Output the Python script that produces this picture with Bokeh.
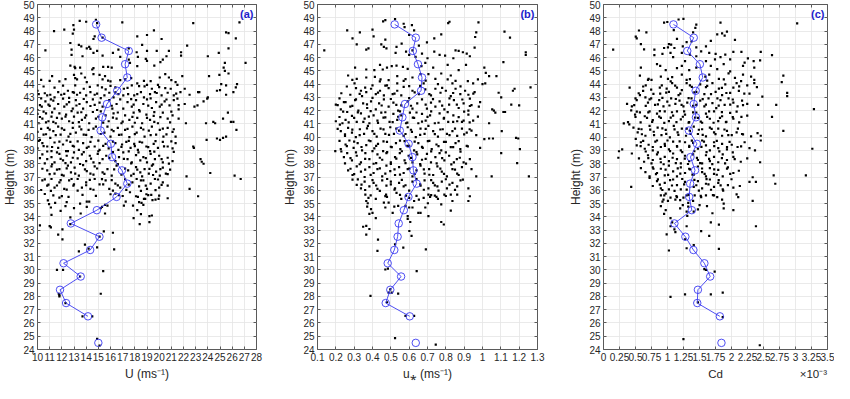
import numpy as np
from bokeh.plotting import figure
from bokeh.layouts import row
from bokeh.models import FixedTicker, LinearAxis, Label, CustomJSTickFormatter, Range1d
from bokeh.embed import file_html
from bokeh.resources import INLINE

# ---------------- data ----------------
height_bins = [24.5, 25.5, 26.5, 27.5, 28.5, 29.5, 30.5, 31.5, 32.5, 33.5, 34.5, 35.5, 36.5,
               37.5, 38.5, 39.5, 40.5, 41.5, 42.5, 43.5, 44.5, 45.5, 46.5, 47.5, 48.5]
nan = float("nan")
mean_U = [15.0, nan, 14.15, 12.35, 11.85, 13.55, 12.14, 14.33, 15.09, 12.74, 14.88, 16.5, 17.38,
          16.94, 16.13, 16.03, 15.19, 15.32, 15.71, 16.55, 17.38, 17.2, 17.5, 15.27, 14.82]
mean_ustar = [0.636, nan, 0.603, 0.472, 0.497, 0.556, 0.483, 0.519, 0.537, 0.543, 0.571, 0.596, 0.641,
              0.623, 0.618, 0.597, 0.549, 0.563, 0.577, 0.665, 0.670, 0.648, 0.620, 0.636, 0.521]
mean_cd = [1.843, nan, 1.818, 1.465, 1.475, 1.667, 1.576, 1.405, 1.279, 1.108, 1.380, 1.339, 1.354,
           1.430, 1.359, 1.460, 1.334, 1.445, 1.410, 1.440, 1.551, 1.506, 1.309, 1.410, 1.093]

# scatter samples (value, height)
points_U = [
    (13.47,48.77),(14.0,48.7),(14.8,48.85),(14.9,48.6),(16.97,48.65),(22.8,48.6),(26.6,48.65),(12.95,48.45),
    (13.0,48.1),(11.36,48.0),(12.2,48.1),(19.57,48.05),(25.5,47.9),(25.7,47.85),
    (12.9,47.8),(14.7,47.6),(14.6,47.4),(15.35,47.5),(18.2,47.6),(19.0,47.7),(20.2,47.4),(26.3,47.45),
    (13.4,46.95),(13.6,46.85),(12.7,47.1),(22.3,46.9),
    (10.65,46.55),(12.8,46.6),(14.05,46.7),(14.25,46.8),(14.35,46.65),(14.9,46.5),(16.2,46.35),(16.65,46.6),
    (17.5,46.7),(18.15,46.4),(18.6,46.95),(19.0,46.5),(19.8,46.5),(20.6,46.1),(20.8,46.5),(21.8,46.4),
    (21.8,46.15),(24.0,46.1),(24.9,46.35),(25.7,46.7),(12.8,46.2),(13.7,46.1),(14.6,46.35),(15.35,46.15),
    (16.8,46.05),(17.5,45.85),(18.25,46.05),(18.9,45.9),(20.3,45.85),
    (12.7,45.4),(13.05,45.3),(13.1,45.2),(13.5,45.25),(14.5,45.1),(14.6,45.2),(15.4,45.3),(15.8,45.3),
    (16.1,45.25),(17.6,45.6),(18.2,45.35),(19.0,45.75),(19.6,45.4),(20.1,45.65),(25.4,45.6),(25.3,45.25),
    (25.4,45.0),(27.1,45.6),(13.0,44.7),(13.6,44.8),(14.6,44.75),(15.1,44.7),(15.55,44.6),
    (11.2,44.6),(11.0,44.25),(13.1,44.45),(13.25,44.35),(13.9,44.5),(14.05,44.15),(15.35,44.35),(16.0,44.2),
    (16.8,44.3),(17.7,44.45),(18.2,44.05),(18.75,44.25),(20.05,44.5),(20.5,44.75),(20.8,44.5),(21.35,44.15),
    (21.9,44.6),(24.1,44.6),(24.95,44.7),(25.1,44.0),(25.7,44.8),(13.1,43.9),(13.8,43.65),(14.95,43.9),
    (15.3,43.75),(15.6,43.6),(16.4,43.75),(17.1,43.65),(17.75,43.9),(18.35,43.85),(19.0,43.95),(19.4,43.65),
    (19.9,43.95),(20.5,43.7),(20.95,43.65),(21.5,43.95),(22.1,43.65),(23.2,43.4),(24.75,43.5),(25.0,43.55),
    (25.5,43.9),(26.3,43.75),(26.4,44.0),
    (10.0,43.5),(10.1,43.25),(10.8,43.15),(11.05,43.2),(11.4,43.0),(11.7,43.4),(11.95,43.2),(12.5,43.5),
    (12.9,43.4),(13.25,43.2),(13.5,43.35),(14.0,43.15),(14.35,43.4),(14.7,43.2),(15.5,43.15),(15.9,43.35),
    (16.25,43.0),(16.65,43.25),(17.05,43.15),(17.45,43.25),(17.95,43.15),(18.5,43.4),(18.75,43.0),(19.25,43.25),
    (19.65,43.4),(20.2,43.15),(20.7,43.35),(21.2,43.15),(21.75,43.4),(22.5,43.2),(23.3,43.4),(24.0,43.0),
    (25.5,43.2),(26.1,43.4),
    (10.0,42.05),(10.35,42.3),(10.65,42.7),(10.9,42.45),(11.3,42.75),(11.4,42.15),(11.7,42.5),(12.1,42.9),
    (12.2,42.3),(12.6,42.65),(12.9,42.15),(13.15,42.8),(13.45,42.5),(13.75,42.15),(14.05,42.65),(14.35,42.35),
    (14.55,42.85),(14.9,42.05),(15.1,42.6),(15.35,42.3),(15.9,42.8),(16.15,42.15),(16.5,42.5),(16.8,42.85),
    (17.05,42.15),(17.4,42.65),(17.75,42.3),(18.1,42.8),(18.35,42.05),(18.7,42.5),(19.0,42.85),(19.4,42.2),
    (19.75,42.65),(20.05,42.3),(20.45,42.7),(20.85,42.4),(21.2,42.8),(21.6,42.1),(22.1,42.5),(22.9,42.3),
    (23.15,42.4),(23.65,42.7),(23.95,42.9),(21.5,42.9),
    (10.0,41.75),(10.1,41.05),(10.4,41.4),(10.7,41.8),(10.9,41.2),(11.15,41.55),(11.5,41.05),(11.8,41.8),
    (12.0,41.4),(12.35,41.7),(12.6,41.2),(13.0,41.55),(13.3,41.85),(13.65,41.3),(14.0,41.65),(14.25,41.05),
    (14.55,41.9),(14.8,41.4),(15.6,41.65),(15.85,41.2),(16.25,41.8),(16.5,41.4),(16.9,41.05),(17.2,41.65),
    (17.55,41.3),(17.9,41.85),(18.2,41.45),(18.6,41.05),(18.95,41.7),(19.25,41.3),(19.55,41.6),(19.9,41.05),
    (20.3,41.85),(20.7,41.4),(21.1,41.65),(21.6,41.4),(22.2,41.05),(23.85,41.05),(24.45,41.15),(24.6,41.05),
    (25.25,41.4),(25.9,41.15),(26.1,41.15),(26.35,40.55),(25.65,41.85),
    (10.0,40.4),(10.2,39.8),(10.5,40.2),(10.85,40.7),(11.05,39.95),(11.3,40.45),(11.7,40.8),(11.9,40.2),
    (12.2,40.55),(12.55,40.05),(12.9,40.7),(13.15,40.35),(13.45,40.8),(13.8,40.2),(14.2,40.55),(14.45,40.0),
    (14.8,40.8),(15.5,40.35),(15.75,40.8),(16.0,40.05),(16.25,40.45),(16.6,40.7),(16.9,40.2),(17.2,40.55),
    (17.55,40.0),(17.8,40.8),(18.15,40.35),(18.5,40.7),(18.8,40.05),(19.15,40.5),(19.4,40.8),(19.75,40.2),
    (20.05,40.55),(20.35,40.05),(20.7,40.7),(21.1,40.4),(21.35,40.05),(23.9,39.8),(24.75,39.9),(25.0,39.8),
    (25.25,39.95),(25.5,40.05),
    (10.0,39.15),(10.4,39.55),(10.8,39.3),(11.15,38.95),(11.4,39.6),(11.7,39.2),(12.1,39.45),(12.35,38.95),
    (12.7,39.65),(13.0,39.3),(13.4,39.05),(13.75,39.55),(14.05,39.2),(14.35,39.65),(14.7,39.3),(15.1,39.05),
    (15.6,39.5),(15.85,39.15),(16.4,39.55),(16.65,39.05),(16.95,39.45),(17.3,39.65),(17.65,39.2),(17.95,39.5),
    (18.25,39.05),(18.6,39.6),(18.95,39.3),(19.25,38.95),(19.55,39.5),(19.9,39.2),(20.3,39.65),(20.7,39.3),
    (21.1,39.15),(21.35,39.55),(22.8,39.3),(22.85,39.2),
    (10.4,38.7),(10.8,38.35),(11.15,38.5),(11.4,38.1),(11.8,38.75),(12.1,38.25),(12.4,38.6),(12.75,38.1),
    (13.0,38.85),(13.3,38.4),(13.65,38.7),(14.0,38.2),(14.3,38.6),(14.6,38.1),(14.95,38.75),(15.35,38.35),
    (15.65,38.6),(16.4,38.2),(16.7,38.5),(17.05,38.85),(17.4,38.35),(17.75,38.1),(18.1,38.65),(18.45,38.25),
    (18.7,38.5),(19.0,38.1),(19.3,38.75),(19.65,38.35),(20.0,38.6),(20.3,38.1),(20.7,38.45),(21.1,38.2),
    (23.4,38.35),(23.5,38.15),(23.65,38.0),
    (10.8,37.5),(11.15,37.8),(11.4,37.25),(11.8,37.6),(12.15,37.1),(12.5,37.85),(12.75,37.35),(13.05,37.7),
    (13.4,37.1),(13.75,37.9),(14.05,37.45),(14.35,37.25),(14.7,37.8),(15.35,37.35),(15.75,37.6),(16.1,37.1),
    (16.5,37.85),(17.45,37.5),(17.7,37.1),(18.1,37.75),(18.45,37.35),(18.6,37.05),(18.8,37.6),(19.15,37.25),
    (19.4,37.85),(19.75,37.4),(20.05,37.1),(20.3,37.7),(20.55,37.25),(20.9,37.55),(22.25,37.05),(24.2,37.3),
    (26.2,37.1),(26.7,36.85),
    (10.4,36.75),(10.8,36.35),(11.15,36.85),(11.4,36.2),(11.8,36.6),(12.2,36.1),(12.6,36.75),(12.95,36.35),
    (13.3,36.85),(13.65,36.2),(14.0,36.6),(14.35,36.1),(14.7,36.85),(15.1,36.45),(15.6,36.75),(15.9,36.1),
    (16.4,36.5),(16.8,36.2),(17.8,36.6),(18.15,36.85),(18.35,36.3),(18.7,36.75),(19.0,36.1),(19.3,36.5),
    (19.65,36.85),(20.0,36.2),(20.3,36.6),(20.7,36.35),(22.5,36.1),
    (10.6,35.72),(10.85,35.24),(10.95,34.95),(11.1,34.7),(11.15,34.15),(11.45,35.05),(11.8,35.45),(11.9,34.45),
    (12.3,34.8),(12.4,35.1),(12.55,35.5),(13.0,34.65),(13.5,35.0),(13.55,34.25),(14.05,34.75),(14.05,35.15),
    (14.25,35.15),(15.2,34.65),(15.3,34.75),(15.55,34.9),(15.55,34.25),(15.75,34.85),(16.0,35.7),(16.4,35.75),
    (17.1,34.85),(17.25,35.15),(17.6,35.85),(17.85,34.85),(18.1,35.55),(18.25,35.5),(18.35,35.1),(18.55,35.05),
    (18.7,34.9),(18.75,35.35),(18.85,35.35),(18.95,35.7),(19.35,35.65),(19.45,35.25),(19.7,35.3),(19.95,35.35),
    (20.0,35.6),(20.7,35.4),(23.2,35.55),
    (17.9,33.9),(18.4,33.45),(19.2,33.6),(19.2,34.05),(19.4,34.1),(18.2,34.5),(18.5,34.2),
    (12.7,33.95),(12.7,33.45),(10.2,33.35),(11.0,33.3),(11.1,33.2),(12.05,33.05),(11.7,32.65),(12.05,32.3),
    (15.45,32.9),(16.2,32.8),(15.1,32.5),(13.9,31.9),(14.2,31.6),(14.9,31.7),(13.4,31.4),(16.3,31.55),
    (11.6,30.0),(12.1,30.0),(15.4,29.9),(13.5,29.5),(11.75,28.2),(11.8,28.1),(11.8,28.0),(15.2,28.2),
    (12.3,27.5),(13.7,26.5),(14.5,26.5),(14.9,24.8),(15.1,24.3),
]
# further samples in the crowded core of panel (a)
points_U_core = [
    (10.3,44.32),(11.8,44.21),(12.3,44.38),(15.8,44.27),(17.2,44.36),(19.3,44.22),(21.0,44.3),
    (10.5,43.82),(11.4,43.74),(12.1,43.88),(14.3,43.79),(16.0,43.86),(17.4,43.71),(18.8,43.83),(20.0,43.77),
    (10.6,43.31),(12.2,43.27),(13.0,43.36),(14.9,43.29),(16.4,43.38),(18.2,43.24),(19.8,43.33),(21.4,43.28),
    (10.3,42.92),(11.1,42.85),(12.6,42.96),(13.8,42.88),(15.2,42.94),(17.7,42.87),(19.3,42.93),(20.6,42.84),
    (10.2,42.42),(11.0,42.36),(12.4,42.47),(13.2,42.39),(14.7,42.44),(16.1,42.37),(17.9,42.45),(19.1,42.38),
    (20.2,42.46),(21.6,42.41),
    (10.5,41.93),(11.2,41.87),(12.8,41.96),(13.6,41.88),(15.2,41.94),(16.6,41.86),(18.4,41.95),(19.6,41.89),(21.0,41.92),
    (10.2,41.52),(11.6,41.46),(12.3,41.55),(13.9,41.48),(15.0,41.54),(16.2,41.47),(17.8,41.53),(19.0,41.45),(20.1,41.51),
    (10.7,41.12),(11.3,41.16),(12.9,41.08),(13.4,41.14),(15.4,41.1),(17.0,41.17),(18.0,41.09),(19.6,41.15),(20.9,41.11),
    (10.3,40.62),(11.0,40.57),(12.0,40.66),(13.6,40.59),(14.6,40.64),(16.1,40.56),(17.4,40.63),(18.7,40.58),
    (20.3,40.65),(21.2,40.6),
    (10.7,40.22),(11.5,40.16),(12.7,40.25),(14.0,40.18),(15.2,40.24),(16.7,40.17),(18.0,40.23),(19.3,40.15),(20.6,40.21),
    (10.1,39.72),(11.8,39.66),(12.4,39.75),(13.3,39.68),(15.0,39.74),(16.2,39.67),(17.5,39.73),(18.4,39.65),
    (19.7,39.71),(21.0,39.69),
    (10.5,39.32),(11.2,39.26),(12.9,39.35),(14.2,39.28),(15.4,39.34),(16.9,39.27),(18.0,39.33),(19.1,39.25),(20.4,39.31),
    (10.8,38.92),(11.6,38.86),(12.5,38.95),(13.8,38.88),(15.0,38.94),(16.2,38.87),(17.5,38.93),(18.3,38.85),
    (19.6,38.91),(21.2,38.89),
    (10.2,38.42),(11.9,38.36),(12.9,38.45),(14.4,38.38),(15.9,38.44),(17.1,38.37),(18.9,38.43),(20.2,38.35),
    (10.6,38.02),(11.2,37.96),(12.3,38.05),(13.5,37.98),(15.1,38.04),(16.6,37.97),(17.7,38.03),(19.5,37.95),(20.8,38.01),
    (10.4,37.62),(11.6,37.56),(12.4,37.65),(13.9,37.58),(14.9,37.64),(16.3,37.57),(17.2,37.63),(18.2,37.55),
    (19.2,37.61),(20.1,37.59),
    (11.0,37.22),(12.0,37.16),(13.1,37.25),(14.6,37.18),(15.5,37.24),(16.9,37.17),(17.9,37.23),(19.5,37.15),(20.7,37.21),
    (10.6,36.82),(11.9,36.76),(12.8,36.85),(14.3,36.78),(15.3,36.84),(16.1,36.77),(17.2,36.83),(18.5,36.75),(19.9,36.81),
    (10.9,36.42),(11.6,36.36),(13.0,36.45),(14.0,36.38),(15.4,36.44),(16.6,36.37),(17.5,36.43),(18.9,36.35),(20.2,36.41),
    (10.3,36.02),(11.1,35.96),(12.4,36.05),(13.3,35.98),(14.6,36.04),(16.2,35.97),(17.3,36.03),(18.5,35.95),(19.7,36.01),
    (11.3,35.62),(12.0,35.56),(13.7,35.65),(14.8,35.58),(16.7,35.64),(17.0,35.57),(19.1,35.63),
]

points_ustar = [
    (0.458,48.73),(0.47,48.83),(0.523,48.9),(0.57,48.55),(0.615,48.45),(0.813,48.6),(0.82,48.7),(0.978,48.65),
    (0.262,48.05),(0.331,47.9),(0.40,48.1),(0.627,48.05),(0.966,47.9),(1.12,47.95),(0.575,48.3),
    (0.291,47.45),(0.406,47.6),(0.47,47.35),(0.60,47.7),(0.737,47.45),(0.775,47.75),(0.96,47.55),(1.15,47.5),
    (0.314,47.0),(0.448,47.0),(0.462,46.8),(0.559,47.05),(0.653,46.9),(0.697,47.15),
    (0.137,46.55),(0.366,46.6),(0.378,46.7),(0.476,46.7),(0.531,46.8),(0.583,46.45),(0.618,46.55),(0.67,46.3),
    (0.70,45.95),(0.737,46.45),(0.766,46.2),(0.841,45.95),(0.853,46.55),(0.87,46.5),(0.893,46.4),(0.914,46.3),
    (0.957,46.75),(1.236,46.4),(1.236,46.2),(0.931,46.1),(0.526,46.35),(0.60,46.2),(0.635,46.05),(0.796,46.15),
    (0.441,45.45),(0.456,45.1),(0.479,45.25),(0.505,45.35),(0.531,45.4),(0.566,45.3),(0.592,45.15),(0.667,45.35),
    (0.688,45.6),(0.731,45.25),(0.81,45.45),(0.91,45.45),(1.01,45.25),(1.114,45.65),(0.305,45.25),(0.366,45.1),
    (0.41,45.05),(0.87,45.05),
    (0.267,44.65),(0.314,44.4),(0.366,44.5),(0.413,44.55),(0.444,44.35),(0.488,44.3),(0.535,44.6),(0.57,44.25),
    (0.618,44.5),(0.662,44.75),(0.705,44.75),(0.743,44.4),(0.775,44.8),(0.827,44.65),(0.853,44.25),(0.975,44.35),
    (1.018,44.85),(1.036,44.6),(1.076,44.6),(0.302,44.05),(0.40,43.9),(0.479,43.9),(0.535,44.05),(0.60,43.85),
    (0.679,44.05),(0.757,44.0),(0.836,44.05),(0.949,44.05),(1.0,44.0),(1.015,44.05),(1.262,43.75),
    (0.31,43.7),(0.337,43.5),(0.366,43.4),(0.392,43.65),(0.418,43.25),(0.441,43.5),(0.462,43.15),(0.488,43.7),
    (0.51,43.25),(0.535,43.5),(0.557,43.15),(0.618,43.5),(0.653,43.25),(0.688,43.6),(0.719,43.15),(0.743,43.65),
    (0.771,43.35),(0.80,43.5),(0.827,43.1),(0.853,43.65),(0.879,43.25),(0.905,43.5),(0.923,43.2),(0.931,42.9),
    (0.957,43.4),(1.088,43.35),(1.102,43.0),(1.166,43.5),(1.175,43.65),(0.279,43.2),(0.244,42.65),(0.343,43.1),
    (0.20,42.45),(0.227,42.1),(0.253,42.65),(0.279,42.3),(0.305,42.8),(0.323,42.0),(0.349,42.55),(0.371,42.2),
    (0.392,42.7),(0.418,42.1),(0.436,42.55),(0.462,42.85),(0.488,42.3),(0.514,42.6),(0.54,42.0),(0.557,42.4),
    (0.592,42.7),(0.618,42.15),(0.644,42.55),(0.67,42.85),(0.697,42.15),(0.719,42.6),(0.743,42.3),(0.766,42.7),
    (0.792,42.1),(0.818,42.45),(0.844,42.8),(0.87,42.2),(0.897,42.55),(0.923,42.0),(0.931,42.35),(0.98,42.3),
    (1.053,42.1),(1.062,42.0),(1.123,41.9),(1.157,42.45),(1.20,42.4),(0.987,42.65),
    (0.20,41.2),(0.222,40.95),(0.236,41.05),(0.253,41.3),(0.262,41.9),(0.288,41.6),(0.314,41.15),(0.337,41.8),
    (0.357,41.4),(0.383,41.05),(0.406,41.65),(0.427,41.25),(0.448,41.85),(0.47,41.5),(0.493,41.15),(0.514,41.75),
    (0.535,41.3),(0.557,41.65),(0.583,41.05),(0.604,41.85),(0.627,41.45),(0.65,41.05),(0.67,41.75),(0.69,41.25),
    (0.714,41.65),(0.74,41.05),(0.766,41.8),(0.789,41.4),(0.813,41.15),(0.841,41.65),(0.862,41.2),(0.888,41.15),
    (0.897,41.25),(0.923,41.7),(0.949,41.25),(0.975,41.55),(1.036,41.05),(1.114,41.9),(1.07,41.85),
    (0.227,40.45),(0.25,40.1),(0.267,40.7),(0.288,40.35),(0.309,40.0),(0.331,40.6),(0.354,40.25),(0.375,40.85),
    (0.40,40.45),(0.423,40.05),(0.444,40.65),(0.47,40.25),(0.497,40.75),(0.517,40.25),(0.545,40.5),(0.57,40.1),
    (0.592,40.75),(0.615,40.4),(0.636,40.0),(0.662,40.65),(0.684,40.25),(0.705,40.85),(0.731,40.45),(0.757,40.05),
    (0.783,40.6),(0.806,40.25),(0.836,40.45),(0.862,40.1),(0.888,40.65),(0.914,40.35),(0.94,40.5),(0.966,40.15),
    (1.01,39.85),(1.036,39.9),(1.057,39.9),(1.183,39.95),(1.105,40.45),
    (0.197,38.95),(0.227,39.1),(0.253,39.45),(0.274,39.75),(0.297,39.2),(0.319,39.55),(0.343,39.0),(0.366,39.4),
    (0.389,39.7),(0.41,39.15),(0.43,39.5),(0.458,38.95),(0.479,39.65),(0.505,39.25),(0.528,39.55),(0.552,39.1),
    (0.575,39.7),(0.60,39.35),(0.627,39.0),(0.65,39.55),(0.674,39.2),(0.702,39.7),(0.723,39.1),(0.749,39.45),
    (0.775,39.0),(0.80,39.65),(0.827,39.25),(0.853,39.55),(0.879,39.1),(0.914,39.35),(0.987,39.2),(1.102,38.8),
    (1.204,39.1),(1.195,39.9),
    (0.244,38.5),(0.262,38.8),(0.288,38.25),(0.314,38.6),(0.337,38.1),(0.361,38.8),(0.383,38.35),(0.406,38.0),
    (0.427,38.7),(0.453,38.3),(0.476,38.8),(0.50,38.1),(0.523,38.5),(0.549,38.8),(0.575,38.25),(0.597,38.6),
    (0.618,38.1),(0.644,38.7),(0.67,38.3),(0.697,38.75),(0.719,38.1),(0.743,38.5),(0.766,38.8),(0.792,38.25),
    (0.818,38.6),(0.844,38.1),(0.876,38.45),(0.897,38.1),(0.931,38.35),(1.189,38.05),
    (0.267,37.5),(0.291,37.15),(0.314,37.8),(0.337,37.4),(0.357,37.0),(0.383,37.75),(0.406,37.3),(0.427,37.6),
    (0.453,37.05),(0.476,37.85),(0.497,37.45),(0.523,37.15),(0.545,37.75),(0.57,37.3),(0.592,37.6),(0.618,37.05),
    (0.64,37.5),(0.662,37.85),(0.684,37.25),(0.709,37.6),(0.731,37.15),(0.754,37.8),(0.778,37.4),(0.806,37.05),
    (0.836,37.6),(0.862,37.25),(0.888,37.75),(0.94,37.6),(0.966,37.05),(1.05,37.05),(1.253,37.05),
    (0.291,36.8),(0.314,36.4),(0.337,36.15),(0.357,36.65),(0.383,36.3),(0.406,36.55),(0.427,36.1),(0.453,36.75),
    (0.476,36.35),(0.50,36.65),(0.523,36.15),(0.545,36.55),(0.57,36.3),(0.618,36.65),(0.662,36.35),(0.684,36.75),
    (0.705,36.15),(0.731,36.55),(0.754,36.3),(0.778,36.65),(0.806,36.15),(0.836,36.55),(0.862,36.3),(0.893,36.8),
    (0.923,36.15),
    (0.361,35.67),(0.378,35.43),(0.418,35.35),(0.474,35.67),(0.479,35.5),(0.531,35.8),(0.557,35.35),(0.583,35.6),
    (0.60,35.43),(0.627,35.19),(0.653,35.3),(0.679,35.43),(0.705,35.67),(0.714,35.5),(0.74,35.6),(0.749,35.5),
    (0.757,35.35),(0.792,35.67),(0.827,35.67),(0.862,35.67),(0.931,35.55),(0.923,35.19),(0.366,35.19),(0.374,35.02),
    (0.371,34.77),(0.392,34.58),(0.40,34.29),(0.383,34.22),(0.418,33.9),(0.462,35.07),(0.47,34.7),(0.488,35.07),
    (0.51,34.29),(0.519,34.77),(0.54,34.82),(0.58,34.82),(0.60,34.7),(0.618,34.7),(0.592,34.05),(0.592,33.85),
    (0.606,33.61),(0.65,34.29),(0.662,34.29),(0.688,34.7),(0.702,35.02),(0.705,34.05),(0.775,34.94),(0.827,34.46),
    (0.836,35.19),(0.775,33.61),(0.789,33.42),(0.349,33.25),(0.366,33.32),(0.383,33.08),(0.366,32.65),(0.43,32.28),
    (0.427,31.43),(0.601,32.93),(0.613,32.57),(0.523,31.92),(0.568,31.68),(0.691,31.55),(0.47,30.03),(0.484,30.1),
    (0.641,29.9),(0.389,28.04),(0.488,28.29),(0.505,28.29),(0.54,28.21),(0.58,26.54),(0.627,26.54),(0.523,24.85),
    (0.745,24.36),(0.479,27.56),(0.497,28.53),
]
# further samples in the crowded core of panel (b)
points_ustar_core = [
    (0.29,44.32),(0.44,44.21),(0.58,44.38),(0.69,44.27),(0.81,44.36),(0.92,44.22),
    (0.26,43.82),(0.36,43.74),(0.47,43.88),(0.57,43.79),(0.66,43.86),(0.78,43.71),(0.88,43.83),
    (0.23,43.31),(0.33,43.27),(0.43,43.36),(0.52,43.29),(0.63,43.38),(0.71,43.24),(0.84,43.33),(0.95,43.28),
    (0.22,42.92),(0.31,42.85),(0.40,42.96),(0.50,42.88),(0.60,42.94),(0.73,42.87),(0.82,42.93),(0.89,42.84),
    (0.21,42.42),(0.29,42.36),(0.37,42.47),(0.45,42.39),(0.53,42.44),(0.61,42.37),(0.69,42.45),(0.78,42.38),
    (0.86,42.46),(0.94,42.41),
    (0.24,41.93),(0.32,41.87),(0.39,41.96),(0.47,41.88),(0.55,41.94),(0.64,41.86),(0.72,41.95),(0.81,41.89),(0.90,41.92),
    (0.22,41.52),(0.30,41.46),(0.38,41.55),(0.46,41.48),(0.54,41.54),(0.62,41.47),(0.70,41.53),(0.79,41.45),(0.87,41.51),
    (0.27,41.12),(0.35,41.16),(0.43,41.08),(0.51,41.14),(0.59,41.1),(0.67,41.17),(0.76,41.09),(0.84,41.15),(0.93,41.11),
    (0.21,40.62),(0.29,40.57),(0.37,40.66),(0.46,40.59),(0.53,40.64),(0.61,40.56),(0.69,40.63),(0.77,40.58),
    (0.85,40.65),(0.93,40.6),
    (0.25,40.22),(0.33,40.16),(0.41,40.25),(0.49,40.18),(0.58,40.24),(0.66,40.17),(0.74,40.23),(0.82,40.15),(0.90,40.21),
    (0.22,39.72),(0.30,39.66),(0.38,39.75),(0.46,39.68),(0.55,39.74),(0.63,39.67),(0.71,39.73),(0.79,39.65),(0.87,39.71),
    (0.26,39.32),(0.34,39.26),(0.42,39.35),(0.50,39.28),(0.59,39.34),(0.67,39.27),(0.76,39.33),(0.84,39.25),(0.92,39.31),
    (0.23,38.92),(0.31,38.86),(0.40,38.95),(0.48,38.88),(0.56,38.94),(0.64,38.87),(0.72,38.93),(0.80,38.85),(0.88,38.91),
    (0.28,38.42),(0.36,38.36),(0.44,38.45),(0.53,38.38),(0.61,38.44),(0.69,38.37),(0.78,38.43),(0.86,38.35),
    (0.25,38.02),(0.33,37.96),(0.42,38.05),(0.50,37.98),(0.58,38.04),(0.66,37.97),(0.75,38.03),(0.83,37.95),(0.91,38.01),
    (0.28,37.62),(0.36,37.56),(0.44,37.65),(0.52,37.58),(0.60,37.64),(0.68,37.57),(0.77,37.63),(0.85,37.55),
    (0.30,37.22),(0.39,37.16),(0.47,37.25),(0.55,37.18),(0.63,37.24),(0.71,37.17),(0.79,37.23),(0.87,37.15),
    (0.32,36.82),(0.40,36.76),(0.48,36.85),(0.56,36.78),(0.64,36.84),(0.72,36.77),(0.80,36.83),(0.88,36.75),
    (0.34,36.42),(0.42,36.36),(0.50,36.45),(0.58,36.38),(0.66,36.44),(0.74,36.37),(0.82,36.43),
    (0.36,36.02),(0.44,35.96),(0.52,36.05),(0.60,35.98),(0.68,36.04),(0.76,35.97),(0.85,36.03),
    (0.39,35.62),(0.47,35.56),(0.55,35.65),(0.64,35.58),(0.72,35.64),(0.80,35.57),
]

points_cd = [
    (0.947,48.63),(0.997,48.68),(1.173,48.87),(1.249,48.92),(1.45,48.48),(1.435,48.24),(1.828,48.63),(3.026,48.58),
    (0.554,48.04),(0.67,47.9),(1.098,48.07),(1.40,47.9),(1.777,47.75),(1.929,47.95),(1.853,47.82),
    (0.504,47.58),(0.519,47.45),(0.584,47.01),(1.022,47.01),(1.057,46.97),(1.148,47.41),(1.299,47.16),(1.375,47.21),
    (1.677,47.26),(2.054,47.33),(1.893,47.65),(0.634,46.62),(0.795,46.6),(0.947,46.72),(1.007,46.77),(1.108,46.72),
    (1.239,46.84),(1.45,46.77),(1.601,46.84),(0.151,46.6),
    (0.795,46.18),(0.921,46.28),(1.047,46.35),(1.088,46.04),(1.224,46.35),(1.35,46.23),(1.45,46.1),(1.526,46.47),
    (1.652,46.35),(1.752,46.28),(1.828,46.04),(1.903,46.23),(2.029,46.43),(2.155,46.43),(2.256,45.94),(2.457,46.43),
    (2.633,46.18),(2.346,45.74),(2.447,45.79),(2.205,45.62),(1.979,45.86),(1.742,45.86),(1.601,45.74),(1.274,45.74),
    (0.836,45.5),(0.886,45.37),(0.584,45.25),(0.972,45.06),(1.148,45.2),(1.224,45.37),(1.339,45.06),(1.45,45.25),
    (1.677,45.37),(1.777,45.13),(1.878,45.5),(1.979,44.96),(2.18,45.37),(2.356,45.25),(0.569,44.64),(0.705,44.4),
    (0.896,44.57),(1.007,44.4),(1.073,44.52),(1.224,44.71),(1.299,44.32),(1.591,44.57),(1.652,44.71),(1.803,44.4),
    (1.954,44.81),(2.054,44.47),(2.306,44.57),(2.356,44.32),(2.81,44.64),(2.785,44.15),(2.18,44.71),
    (0.66,43.91),(0.695,44.32),(0.911,43.91),(0.987,43.66),(1.073,44.08),(1.148,43.73),(1.299,44.08),(1.35,43.91),
    (1.511,43.98),(1.601,43.78),(1.702,44.08),(1.803,43.66),(1.903,43.98),(2.029,43.73),(2.08,44.08),(2.246,43.91),
    (2.356,44.08),(2.397,43.78),(0.408,43.73),(0.619,43.49),(0.745,43.59),(0.886,43.29),(1.022,43.42),(1.173,43.17),
    (1.224,43.54),(1.45,43.42),(1.576,43.25),(1.752,43.42),(1.853,43.17),(1.979,43.34),(2.115,43.49),(2.281,43.29),
    (2.482,43.05),(2.87,43.34),(2.87,43.1),
    (0.519,42.8),(0.569,43.17),(0.655,43.0),(0.695,42.61),(0.745,42.93),(0.806,42.44),(0.871,42.8),(0.937,42.32),
    (0.997,42.68),(1.057,42.93),(1.123,42.51),(1.188,42.76),(1.249,42.32),(1.309,42.61),(1.375,42.93),(1.45,42.44),
    (1.511,42.76),(1.576,42.32),(1.641,42.93),(1.702,42.56),(1.762,42.19),(1.828,42.8),(1.893,42.44),(1.954,42.93),
    (2.029,42.61),(2.095,42.32),(2.165,42.76),(2.246,42.51),(2.417,42.44),(2.699,42.44),(0.368,42.51),(0.443,42.32),
    (3.288,42.12),
    (0.433,42.02),(0.493,41.7),(0.569,41.87),(0.645,41.58),(0.72,41.95),(0.77,41.29),(0.836,41.77),(0.896,41.46),
    (0.957,41.95),(1.022,41.21),(1.088,41.63),(1.148,41.95),(1.208,41.34),(1.274,41.7),(1.339,41.14),(1.4,41.87),
    (1.475,41.46),(1.541,41.09),(1.601,41.77),(1.662,41.39),(1.727,41.95),(1.793,41.21),(1.853,41.58),(1.913,41.14),
    (1.979,41.83),(2.029,41.39),(2.155,41.53),(2.246,41.63),(2.633,41.53),(0.383,41.14),(0.403,40.97),(0.317,41.04),
    (0.468,40.72),(0.534,40.36),(0.594,40.6),(0.655,40.11),(0.72,40.85),(0.785,40.41),(0.846,40.72),(0.906,40.16),
    (0.972,40.55),(1.037,39.99),(1.098,40.85),(1.158,40.36),(1.224,40.65),(1.289,40.11),(1.35,40.48),(1.41,40.8),
    (1.475,40.24),(1.541,40.6),(1.601,40.06),(1.662,40.72),(1.727,40.36),(1.793,40.65),(1.853,40.11),(1.929,40.48),
    (2.004,40.16),(2.08,40.36),(2.165,40.24),(2.306,40.06),(2.407,40.31),(2.457,40.11),(2.81,40.48),(0.504,39.87),
    (0.242,38.94),(0.292,39.08),(0.519,39.38),(0.584,39.62),(0.645,39.13),(0.705,39.43),(0.77,39.01),(0.836,39.75),
    (0.896,39.26),(0.957,39.5),(1.022,39.08),(1.088,39.67),(1.148,39.33),(1.208,39.01),(1.274,39.62),(1.339,39.26),
    (1.4,39.57),(1.475,39.13),(1.541,39.75),(1.601,39.38),(1.662,39.01),(1.727,39.62),(1.793,39.18),(1.853,39.5),
    (1.929,39.08),(2.004,39.43),(2.095,39.26),(2.205,39.62),(2.281,39.18),(2.367,39.01),(2.457,39.75),(3.263,39.13),
    (0.232,38.45),(0.443,38.77),(0.554,38.4),(0.634,38.15),(0.695,38.64),(0.77,38.28),(0.836,38.7),(0.896,38.11),
    (0.957,38.52),(1.022,38.2),(1.088,38.77),(1.148,38.35),(1.208,38.03),(1.274,38.6),(1.339,38.2),(1.4,38.7),
    (1.475,38.28),(1.541,38.03),(1.601,38.64),(1.662,38.2),(1.727,38.52),(1.793,38.11),(1.863,38.7),(1.929,38.28),
    (2.029,38.52),(2.145,38.15),(2.246,38.4),(2.447,38.11),
    (0.584,37.67),(0.655,37.37),(0.72,37.05),(0.77,37.72),(0.836,37.3),(0.896,37.62),(0.957,37.13),(1.022,37.86),
    (1.088,37.42),(1.148,37.05),(1.208,37.72),(1.274,37.3),(1.339,37.62),(1.41,37.18),(1.475,37.79),(1.541,37.37),
    (1.601,37.05),(1.662,37.67),(1.727,37.23),(1.793,37.54),(1.863,37.05),(1.944,37.72),(2.029,37.3),(2.115,37.47),
    (2.659,37.13),(3.162,37.13),(2.331,36.98),
    (0.433,36.25),(0.72,36.93),(0.77,36.32),(0.836,36.69),(0.896,36.15),(0.957,36.56),(1.022,36.07),(1.088,36.81),
    (1.148,36.39),(1.208,36.07),(1.274,36.64),(1.41,36.25),(1.475,36.69),(1.541,36.15),(1.601,36.49),(1.662,36.81),
    (1.727,36.25),(1.793,36.56),(1.863,36.07),(1.944,36.39),(2.029,36.2),(2.13,36.32),(2.281,36.64),(2.381,36.64),
    (2.684,36.49),
    (0.896,35.61),(0.972,35.74),(1.047,35.44),(1.123,35.3),(1.148,35.49),(1.198,35.25),(1.249,35.44),(1.299,35.61),
    (1.425,35.61),(1.526,35.49),(1.601,35.61),(1.727,35.61),(1.777,35.49),(1.853,35.3),(1.878,35.0),(2.08,35.69),
    (2.105,35.49),(2.331,35.2),(0.896,34.81),(0.937,35.3),(0.972,34.51),(0.947,34.22),(1.007,35.2),(1.047,33.9),
    (1.073,33.58),(1.047,33.29),(1.108,33.05),(1.123,32.85),(0.987,32.68),(1.239,34.88),(1.299,34.39),(1.324,34.76),
    (1.41,34.39),(1.475,34.56),(1.501,34.88),(1.617,34.81),(1.702,34.27),(1.878,34.64),(2.029,34.51),(1.309,34.07),
    (1.299,33.29),(1.526,32.92),(1.677,33.58),(1.652,32.56),(1.803,33.41),(2.382,33.29),(1.274,32.31),(1.41,31.87),
    (1.299,31.63),(1.022,31.46),(1.803,31.58),(1.576,30.06),(1.601,29.99),(1.737,29.87),(1.863,28.28),(1.677,28.16),
    (1.047,27.96),(1.274,28.16),(1.475,27.55),(1.863,26.44),(1.249,24.78),(2.442,24.32),(1.324,35.05),(1.4,35.2),
    (1.198,34.64),(0.921,35.15),
]
# further samples in the crowded core of panel (c)
points_cd_core = [
    (0.75,44.32),(1.05,44.21),(1.35,44.38),(1.62,44.27),(1.88,44.36),(2.15,44.22),
    (0.62,43.82),(0.88,43.74),(1.12,43.88),(1.38,43.79),(1.62,43.86),(1.85,43.71),(2.12,43.83),
    (0.55,43.31),(0.78,43.27),(0.98,43.36),(1.2,43.29),(1.42,43.38),(1.68,43.24),(1.92,43.33),(2.2,43.28),
    (0.5,42.92),(0.72,42.85),(0.92,42.96),(1.13,42.88),(1.33,42.94),(1.55,42.87),(1.78,42.93),(2.02,42.84),
    (0.48,42.42),(0.66,42.36),(0.85,42.47),(1.03,42.39),(1.22,42.44),(1.4,42.37),(1.6,42.45),(1.8,42.38),
    (1.98,42.46),(2.18,42.41),
    (0.52,41.93),(0.7,41.87),(0.88,41.96),(1.07,41.88),(1.26,41.94),(1.45,41.86),(1.65,41.95),(1.85,41.89),(2.08,41.92),
    (0.5,41.52),(0.68,41.46),(0.87,41.55),(1.05,41.48),(1.24,41.54),(1.43,41.47),(1.62,41.53),(1.82,41.45),(2.02,41.51),
    (0.58,41.12),(0.76,41.16),(0.95,41.08),(1.14,41.14),(1.33,41.1),(1.52,41.17),(1.72,41.09),(1.92,41.15),(2.12,41.11),
    (0.55,40.62),(0.73,40.57),(0.92,40.66),(1.11,40.59),(1.3,40.64),(1.49,40.56),(1.69,40.63),(1.89,40.58),(2.1,40.65),
    (0.6,40.22),(0.79,40.16),(0.98,40.25),(1.17,40.18),(1.36,40.24),(1.55,40.17),(1.75,40.23),(1.95,40.15),(2.18,40.21),
    (0.62,39.72),(0.81,39.66),(1.0,39.75),(1.19,39.68),(1.38,39.74),(1.57,39.67),(1.77,39.73),(1.97,39.65),
    (0.58,39.32),(0.77,39.26),(0.96,39.35),(1.15,39.28),(1.34,39.34),(1.53,39.27),(1.73,39.33),(1.93,39.25),(2.15,39.31),
    (0.66,38.92),(0.85,38.86),(1.04,38.95),(1.23,38.88),(1.42,38.94),(1.61,38.87),(1.81,38.93),(2.02,38.85),
    (0.7,38.42),(0.89,38.36),(1.08,38.45),(1.27,38.38),(1.46,38.44),(1.65,38.37),(1.85,38.43),(2.05,38.35),
    (0.75,38.02),(0.94,37.96),(1.13,38.05),(1.32,37.98),(1.51,38.04),(1.7,37.97),(1.9,38.03),
    (0.78,37.62),(0.97,37.56),(1.16,37.65),(1.35,37.58),(1.54,37.64),(1.73,37.57),(1.93,37.63),
    (0.82,37.22),(1.01,37.16),(1.2,37.25),(1.39,37.18),(1.58,37.24),(1.77,37.17),(1.98,37.23),
    (0.85,36.82),(1.04,36.76),(1.23,36.85),(1.42,36.78),(1.61,36.84),(1.8,36.77),(2.0,36.83),
    (0.88,36.42),(1.07,36.36),(1.26,36.45),(1.45,36.38),(1.64,36.44),(1.83,36.37),
    (0.92,36.02),(1.11,35.96),(1.3,36.05),(1.49,35.98),(1.68,36.04),(1.87,35.97),
    (0.95,35.62),(1.14,35.56),(1.33,35.65),(1.52,35.58),(1.71,35.64),
]

y_ticks = list(range(24, 51))
x_ticks_U = list(range(10, 29))
x_ticks_ustar = [round(0.1 * i, 1) for i in range(1, 14)]
x_ticks_cd = [0.25 * i for i in range(0, 15)]
cd_scale_text = "×10⁻³"

FONT = "Liberation Sans"
BLUE = "#3b3bf0"
AX = "#5a5a5a"
TXT = "#262626"

fmt = CustomJSTickFormatter(code="return String(Number(tick.toFixed(2)));")


def panel(points, means, xmin, xmax, xticks, xlabel, tag, width, left, right):
    p = figure(width=width, height=383, x_range=Range1d(xmin, xmax), y_range=Range1d(24, 50),
               output_backend="svg", toolbar_location=None,
               min_border_left=left, min_border_right=right, min_border_top=4, min_border_bottom=31)
    p.background_fill_color = "white"
    p.outline_line_color = AX
    p.outline_line_width = 1
    xs = [v for v, h in points]
    hs = [h for v, h in points]
    p.scatter(xs, hs, marker="square", size=2.2, fill_color="black", line_color=None)
    mx = np.array(means, dtype=float)
    my = np.array(height_bins, dtype=float)
    p.line(mx, my, line_color=BLUE, line_width=0.9)
    p.scatter(mx, my, marker="circle", size=7.5, fill_color=None, line_color=BLUE, line_width=0.9)

    for ax in (p.xaxis[0], p.yaxis[0]):
        ax.major_tick_in = 3
        ax.major_tick_out = 0
        ax.minor_tick_line_color = None
        ax.axis_line_color = None
        ax.major_tick_line_color = AX
        ax.major_label_text_font = FONT
        ax.major_label_text_font_size = "10px"
        ax.major_label_text_color = TXT
        ax.axis_label_text_font = FONT
        ax.axis_label_text_font_size = "12px"
        ax.axis_label_text_font_style = "normal"
        ax.axis_label_text_color = TXT
        ax.major_label_standoff = 3
        ax.axis_label_standoff = 3
    p.xaxis[0].ticker = FixedTicker(ticks=xticks)
    p.xaxis[0].formatter = fmt
    if xlabel is not None:
        p.xaxis[0].axis_label = xlabel
    p.yaxis[0].ticker = FixedTicker(ticks=y_ticks)
    p.yaxis[0].axis_label = "Height (m)"

    # inward ticks on the top and right edges of the box (no labels drawn)
    for loc, ticks in (("above", xticks), ("right", y_ticks)):
        ax = LinearAxis(ticker=FixedTicker(ticks=ticks), major_label_text_font_size="1px",
                        major_label_text_color=None, major_label_standoff=0,
                        major_tick_in=3, major_tick_out=0,
                        minor_tick_line_color=None, axis_line_color=None, major_tick_line_color=AX)
        p.add_layout(ax, loc)

    p.xgrid.grid_line_color = "#e4e4e4"
    p.ygrid.grid_line_color = "#e4e4e4"
    p.xgrid.grid_line_width = 0.8
    p.ygrid.grid_line_width = 0.8

    p.add_layout(Label(x=xmax, y=50, x_offset=-3, y_offset=-3, text=tag, text_align="right",
                       text_baseline="top", text_font=FONT, text_font_size="11px",
                       text_font_style="bold", text_color="#2222cc"))
    return p


p1 = panel(points_U + points_U_core, mean_U, 10, 28, x_ticks_U, "U (ms⁻¹)", "(a)", 280, 32, 24)
p2 = panel(points_ustar + points_ustar_core, mean_ustar, 0.1, 1.3, x_ticks_ustar, "u⁎ (ms⁻¹)", "(b)", 280, 33, 23)
p3 = panel(points_cd + points_cd_core, mean_cd, 0, 3.5, x_ticks_cd, None, "(c)", 274, 43, 7)

# second row under panel (c): the "Cd" title in the middle and the x10^-3 factor at the right
cd_row = LinearAxis(
    ticker=FixedTicker(ticks=[1.75, 3.28]),
    formatter=CustomJSTickFormatter(args=dict(scale=cd_scale_text),
                                    code="return tick < 2 ? 'Cd' : scale;"),
    major_tick_in=0, major_tick_out=0, minor_tick_line_color=None, axis_line_color=None,
    major_tick_line_color=None, major_label_standoff=4,
    major_label_text_font=FONT, major_label_text_font_size="11.5px", major_label_text_color=TXT)
p3.add_layout(cd_row, "below")

layout = row(p1, p2, p3)
open("out.html", "w").write(file_html(layout, INLINE))
